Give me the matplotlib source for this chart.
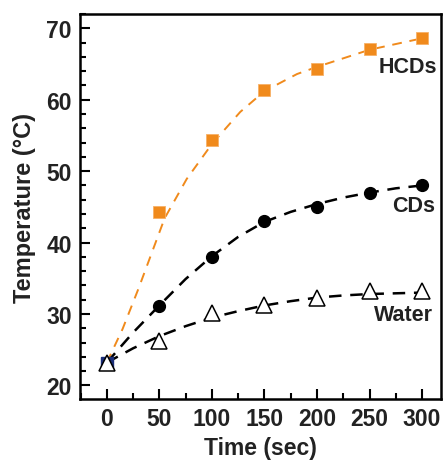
import numpy as np
import matplotlib.pyplot as plt
from matplotlib.ticker import MultipleLocator

plt.rcParams['font.family'] = ['Liberation Sans', 'DejaVu Sans']
plt.rcParams['font.weight'] = 'bold'

# measured points
time = [50, 100, 150, 200, 250, 300]
hcds = [44.3, 54.3, 61.4, 64.3, 67.1, 68.6]
cds = [31.1, 38.0, 43.0, 45.0, 47.0, 48.1]
water = [23.1, 26.2, 30.2, 31.3, 32.3, 33.2, 33.2]
water_time = [0, 50, 100, 150, 200, 250, 300]
start_time = [0]
start_temp = [23.2]

# dashed fit curves
fit_t = [0, 15, 30, 55, 76, 100, 127, 150, 181, 200, 250, 300]
fit_hcds = [23.2, 27.9, 33.5, 43.4, 48.9, 53.8, 58.3, 61.2, 63.6, 64.6, 67.0, 68.6]
fit_t2 = [0, 25, 50, 75, 100, 125, 150, 175, 200, 225, 250, 275, 300]
fit_cds = [23.2, 27.4, 31.2, 34.9, 38.1, 40.8, 42.9, 44.3, 45.4, 46.3, 47.0, 47.6, 48.0]
fit_water = [23.2, 25.2, 26.9, 28.3, 29.5, 30.4, 31.2, 31.8, 32.3, 32.6, 32.8, 32.9, 33.0]

orange = '#f08a1c'
text_col = '#222222'

fig = plt.figure(figsize=(4.43, 4.64), dpi=100)
ax = fig.add_axes([0.1806, 0.1379, 0.8149, 0.8297])

ax.plot(fit_t, fit_hcds, '--', color=orange, lw=1.4, dashes=(5, 4), zorder=2)
ax.plot(fit_t2, fit_cds, '--', color='black', lw=1.8, dashes=(5, 3.5), zorder=2)
ax.plot(fit_t2, fit_water, '--', color='black', lw=1.8, dashes=(5, 3.5), zorder=2)

ax.plot(start_time, start_temp, 's', color='#1c2f7a', ms=8.5, zorder=3)
ax.plot(time, hcds, 's', color=orange, mec='#f7b066', mew=0.6, ms=9, zorder=4)
ax.plot(time, cds, 'o', color='black', ms=8.5, zorder=4)
ax.plot(water_time, water, '^', mfc='white', mec='black', mew=1.1, ms=11, zorder=5)

ax.text(286, 64.6, 'HCDs', fontsize=15.5, color=text_col, ha='center', va='center')
ax.text(292, 45.2, 'CDs', fontsize=15.5, color=text_col, ha='center', va='center')
ax.text(282, 30.0, 'Water', fontsize=15.5, color=text_col, ha='center', va='center')

ax.set_xlim(-25.5, 318)
ax.set_ylim(18.1, 72)
ax.xaxis.set_major_locator(MultipleLocator(50))
ax.xaxis.set_minor_locator(MultipleLocator(25))
ax.yaxis.set_major_locator(MultipleLocator(10))
ax.yaxis.set_minor_locator(MultipleLocator(2))
ax.tick_params(which='both', direction='in', width=1.5, labelsize=16.5, colors='black')
ax.tick_params(which='major', length=7, pad=6)
ax.tick_params(which='minor', length=4)
for lbl in ax.get_xticklabels() + ax.get_yticklabels():
    lbl.set_fontweight('bold')
    lbl.set_color(text_col)
for sp in ax.spines.values():
    sp.set_linewidth(1.8)

ax.set_xlabel('Time (sec)', fontsize=16.5, fontweight='bold', color=text_col, labelpad=4)
ax.set_ylabel('Temperature (°C)', fontsize=17, fontweight='bold', color=text_col, labelpad=7)

fig.savefig('out.png', dpi=100)
